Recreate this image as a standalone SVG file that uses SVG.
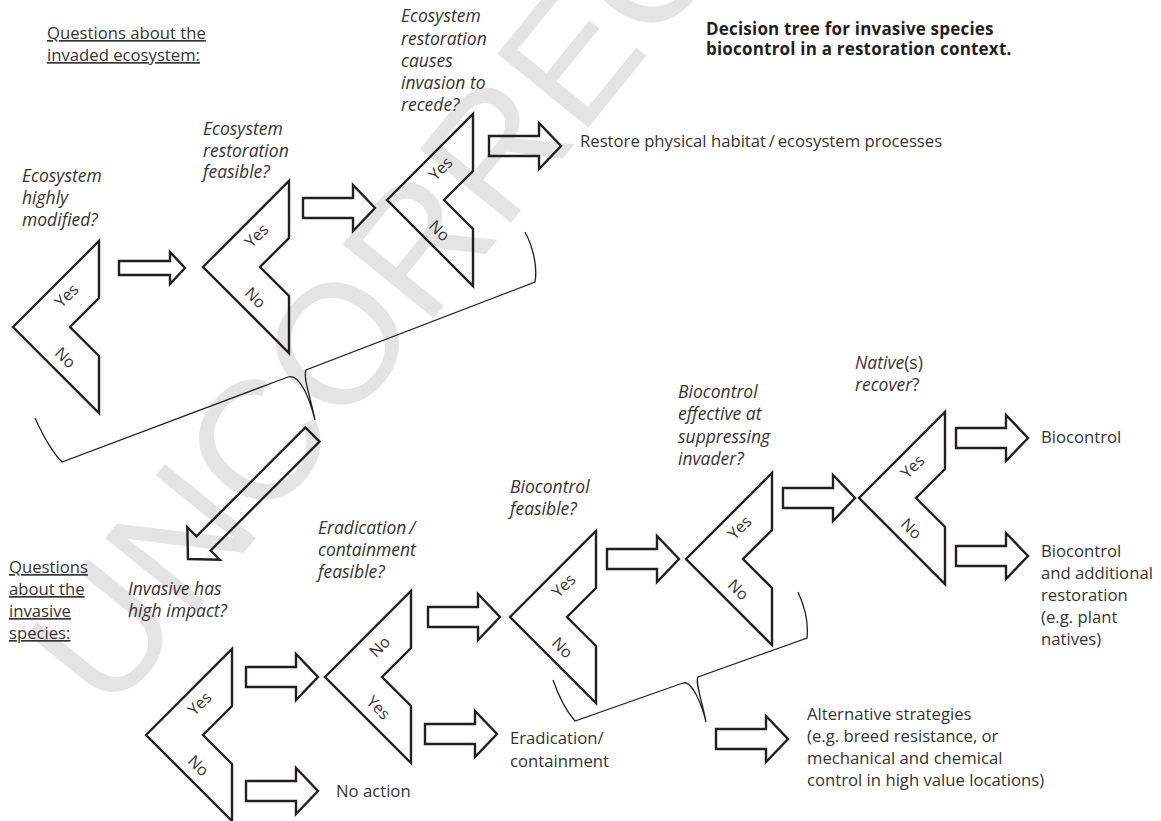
<svg xmlns="http://www.w3.org/2000/svg" xmlns:xlink="http://www.w3.org/1999/xlink" width="1161" height="821" viewBox="0 0 1161 821">
<style>
text{font-family:"Open Sans","Noto Sans","Liberation Sans",sans-serif;fill:#363334;font-size:16.7px;font-weight:normal}
.q{font-style:italic;font-size:17.5px}
.up{font-style:normal}
.u{text-decoration:underline}
.b{font-weight:bold;font-size:17px;letter-spacing:0.2px;fill:#231f20}
.yn{font-size:16px}
.shape{fill:none;stroke:#231f20;stroke-width:2.4;stroke-linejoin:miter}
.brace{fill:none;stroke:#231f20;stroke-width:1.3}
.wm{font-family:"Liberation Sans",sans-serif;font-size:170px;font-weight:normal;font-style:normal;fill:#e4e4e4}
</style>
<defs>
<path id="chev" d="M0,0 L86,-86 V-29 L57,0 L86,29 V86 Z"/>
<path id="arr" d="M-72,-10 H-22 V-23 L0,0 L-22,23 V10 H-72 Z"/>
</defs>
<rect width="1161" height="821" fill="#fff"/>
<text class="wm" transform="translate(110,718) rotate(-51)">UNCORRECTED</text>

<g id="title">
<text class="b" x="706" y="35">Decision tree for invasive species</text>
<text class="b" x="706" y="55">biocontrol in a restoration context.</text>
</g>
<g id="section-ecosystem">
<text class="u" x="47" y="39">Questions about the</text>
<text class="u" x="47" y="61">invaded ecosystem:</text>
</g>
<g id="section-invasive">
<text class="u" x="9" y="573">Questions</text>
<text class="u" x="9" y="595">about the</text>
<text class="u" x="9" y="617">invasive</text>
<text class="u" x="9" y="639">species:</text>
</g>

<g id="q-modified">
<use href="#chev" class="shape" x="13" y="327"/>
<text class="q" x="22" y="182">Ecosystem</text>
<text class="q" x="22" y="204">highly</text>
<text class="q" x="22" y="226">modified?</text>
<text class="yn" text-anchor="middle" transform="translate(67,296) rotate(-45)" y="5">Yes</text>
<text class="yn" text-anchor="middle" transform="translate(65,358) rotate(45)" y="5">No</text>
</g>
<g id="q-feasible">
<use href="#chev" class="shape" x="203" y="267"/>
<text class="q" x="203" y="135">Ecosystem</text>
<text class="q" x="203" y="157">restoration</text>
<text class="q" x="203" y="178">feasible?</text>
<text class="yn" text-anchor="middle" transform="translate(257,236) rotate(-45)" y="5">Yes</text>
<text class="yn" text-anchor="middle" transform="translate(255,298) rotate(45)" y="5">No</text>
</g>
<g id="q-recede">
<use href="#chev" class="shape" x="387" y="200"/>
<text class="q" x="401" y="22">Ecosystem</text>
<text class="q" x="401" y="45">restoration</text>
<text class="q" x="401" y="67">causes</text>
<text class="q" x="401" y="89">invasion to</text>
<text class="q" x="401" y="111">recede?</text>
<text class="yn" text-anchor="middle" transform="translate(441,169) rotate(-45)" y="5">Yes</text>
<text class="yn" text-anchor="middle" transform="translate(439,231) rotate(45)" y="5">No</text>
</g>
<g id="out-restore">
<text x="580" y="147">Restore physical habitat&#8201;/&#8201;ecosystem processes</text>
</g>

<g id="q-impact">
<use href="#chev" class="shape" x="146" y="735"/>
<text class="q" x="128" y="595">Invasive has</text>
<text class="q" x="128" y="617">high impact?</text>
<text class="yn" text-anchor="middle" transform="translate(200,704) rotate(-45)" y="5">Yes</text>
<text class="yn" text-anchor="middle" transform="translate(198,766) rotate(45)" y="5">No</text>
</g>
<g id="out-noaction">
<text x="336" y="797">No action</text>
</g>
<g id="q-eradication">
<use href="#chev" class="shape" x="325" y="677"/>
<text class="q" x="318" y="534">Eradication&#8201;/</text>
<text class="q" x="318" y="556">containment</text>
<text class="q" x="318" y="578">feasible?</text>
<text class="yn" text-anchor="middle" transform="translate(380,647) rotate(-45)" y="5">No</text>
<text class="yn" text-anchor="middle" transform="translate(378,708) rotate(45)" y="5">Yes</text>
</g>
<g id="out-eradication">
<text x="510" y="744">Eradication/</text>
<text x="510" y="767">containment</text>
</g>
<g id="q-biofeasible">
<use href="#chev" class="shape" x="510" y="617"/>
<text class="q" x="510" y="493">Biocontrol</text>
<text class="q" x="510" y="515">feasible?</text>
<text class="yn" text-anchor="middle" transform="translate(564,586) rotate(-45)" y="5">Yes</text>
<text class="yn" text-anchor="middle" transform="translate(562,648) rotate(45)" y="5">No</text>
</g>
<g id="q-bioeffective">
<use href="#chev" class="shape" x="686" y="559"/>
<text class="q" x="678" y="398">Biocontrol</text>
<text class="q" x="678" y="420">effective at</text>
<text class="q" x="678" y="443">suppressing</text>
<text class="q" x="678" y="465">invader?</text>
<text class="yn" text-anchor="middle" transform="translate(740,528) rotate(-45)" y="5">Yes</text>
<text class="yn" text-anchor="middle" transform="translate(738,590) rotate(45)" y="5">No</text>
</g>
<g id="q-natives">
<use href="#chev" class="shape" x="859" y="498"/>
<text class="q" x="855" y="369">Native<tspan class="up">(s)</tspan></text>
<text class="q" x="855" y="391">recover<tspan class="up">?</tspan></text>
<text class="yn" text-anchor="middle" transform="translate(913,467) rotate(-45)" y="5">Yes</text>
<text class="yn" text-anchor="middle" transform="translate(911,529) rotate(45)" y="5">No</text>
</g>
<g id="out-biocontrol">
<text x="1041" y="443">Biocontrol</text>
</g>
<g id="out-biorestoration">
<text x="1041" y="557">Biocontrol</text>
<text x="1041" y="579">and additional</text>
<text x="1041" y="601">restoration</text>
<text x="1041" y="623">(e.g. plant</text>
<text x="1041" y="645">natives)</text>
</g>
<g id="out-alternative">
<text x="807" y="720">Alternative strategies</text>
<text x="807" y="742">(e.g. breed resistance, or</text>
<text x="807" y="764">mechanical and chemical</text>
<text x="807" y="786">control in high value locations)</text>
</g>

<g id="connectors">
<path class="shape" d="M119,261 H170 V252 L185,268 L170,284 V275 H119 Z"/>
<use href="#arr" class="shape" x="375" y="208"/>
<use href="#arr" class="shape" x="561" y="146"/>
<path class="brace" d="M35,418 C45,440 55,455 62,462 L288,377 C300,373 310,400 315,420 C310,395 303,378 306,370 L535,282 C538,265 532,245 525,232"/>
<path class="shape" transform="translate(188,559) rotate(135)" d="M-176,-10 H-22 V-23 L0,0 L-22,23 V10 H-176 Z"/>
<use href="#arr" class="shape" x="318" y="677"/>
<use href="#arr" class="shape" x="318" y="791"/>
<use href="#arr" class="shape" x="500" y="617"/>
<use href="#arr" class="shape" x="497" y="734"/>
<use href="#arr" class="shape" x="679" y="559"/>
<use href="#arr" class="shape" x="855" y="498"/>
<use href="#arr" class="shape" x="1028" y="438"/>
<use href="#arr" class="shape" x="1028" y="556"/>
<path class="brace" d="M553,680 C560,700 568,713 575,721 L683,683 C692,680 702,705 706,722 C702,700 695,683 698,677 L807,638 C809,620 804,605 798,592"/>
<use href="#arr" class="shape" x="788" y="739"/>
</g>
</svg>
